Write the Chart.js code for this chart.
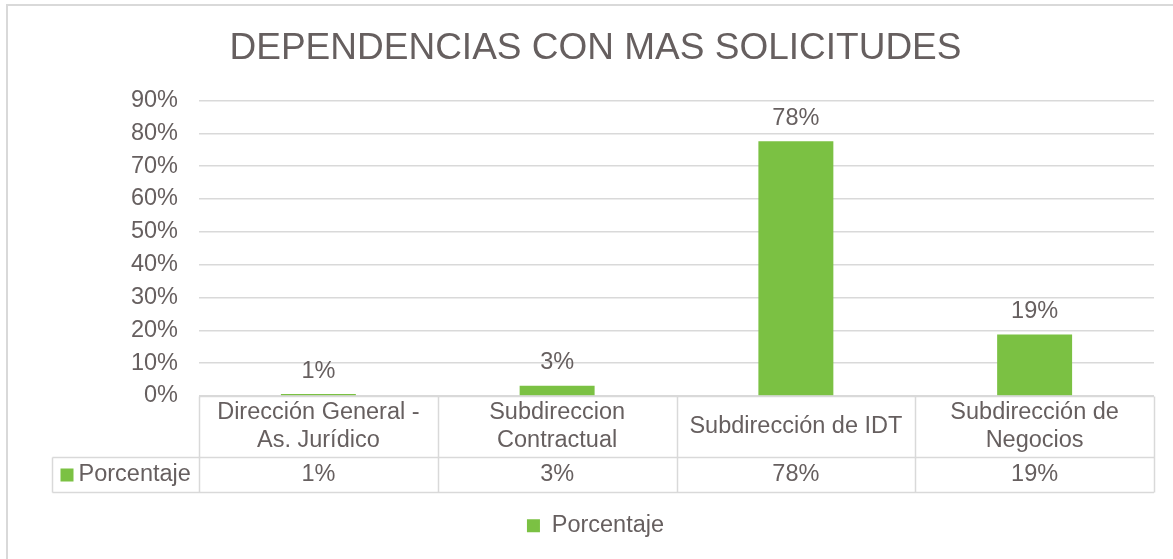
<!DOCTYPE html>
<html>
<head>
<meta charset="utf-8">
<script src="https://cdn.jsdelivr.net/npm/chart.js@4/dist/chart.umd.min.js"></script>
<style>
  html, body { margin: 0; padding: 0; background: #ffffff; }
  canvas { display: block; }
</style>
</head>
<body>
<canvas id="c" width="1173" height="559"></canvas>
<script>
// ---- data ----
const chartTitle = "DEPENDENCIAS CON MAS SOLICITUDES";
const seriesName = "Porcentaje";
const categories = [
  ["Dirección General -", "As. Jurídico"],
  ["Subdireccion", "Contractual"],
  ["Subdirección de IDT"],
  ["Subdirección de", "Negocios"]
];
const porcentaje = [0.6, 3.1, 77.6, 18.7];
const yTicks = [0, 10, 20, 30, 40, 50, 60, 70, 80, 90];

// ---- styles ----
const GREEN = "#7BC143";
const TEXT = "#665f5f";
const GRID = "#d9d9d9";
const FONT = "'Liberation Sans', Arial, sans-serif";
const FS = 23.5;
const fmt = v => Math.round(v) + "%";

const frame = {
  id: "frame",
  beforeDraw(chart) {
    const ctx = chart.ctx;
    ctx.save();
    ctx.strokeStyle = GRID;
    ctx.lineWidth = 2;
    ctx.strokeRect(7, 5, 1300, 700);
    ctx.restore();
  }
};

const valueLabels = {
  id: "valueLabels",
  afterDatasetsDraw(chart) {
    const ctx = chart.ctx;
    const meta = chart.getDatasetMeta(0);
    ctx.save();
    ctx.font = FS + "px " + FONT;
    ctx.fillStyle = TEXT;
    ctx.textAlign = "center";
    ctx.textBaseline = "middle";
    meta.data.forEach((bar, i) => {
      ctx.fillText(fmt(porcentaje[i]), bar.x, bar.y - 23);
    });
    ctx.restore();
  }
};

const dataTable = {
  id: "dataTable",
  afterDraw(chart) {
    const ctx = chart.ctx;
    const area = chart.chartArea;
    const xs = chart.scales.x;
    const n = categories.length;
    const colW = area.width / n;
    const top = Math.round(area.bottom) + 0.5;
    const headerBottom = top + 61;
    const rowBottom = headerBottom + 35;
    const legendLeft = 52.5;

    ctx.save();
    ctx.strokeStyle = GRID;
    ctx.lineWidth = 1.5;
    ctx.beginPath();
    ctx.moveTo(area.left, top); ctx.lineTo(area.right, top);
    ctx.moveTo(legendLeft, headerBottom); ctx.lineTo(area.right, headerBottom);
    ctx.moveTo(legendLeft, rowBottom); ctx.lineTo(area.right, rowBottom);
    ctx.moveTo(legendLeft, headerBottom); ctx.lineTo(legendLeft, rowBottom);
    for (let i = 0; i <= n; i++) {
      const x = Math.round(xs.getPixelForValue(i) - colW / 2) + 0.5;
      ctx.moveTo(x, top); ctx.lineTo(x, rowBottom);
    }
    ctx.stroke();

    ctx.font = FS + "px " + FONT;
    ctx.fillStyle = TEXT;
    ctx.textAlign = "center";
    ctx.textBaseline = "middle";
    const hc = (top + headerBottom) / 2;
    const rc = (headerBottom + rowBottom) / 2;
    categories.forEach((lines, i) => {
      const cx = xs.getPixelForValue(i);
      const lh = 28;
      lines.forEach((t, k) => {
        ctx.fillText(t, cx, hc - (lines.length - 1) * lh / 2 + k * lh);
      });
      ctx.fillText(fmt(porcentaje[i]), cx, rc);
    });
    ctx.fillStyle = GREEN;
    ctx.fillRect(legendLeft + 8, rc - 6.5, 13, 13);
    ctx.fillStyle = TEXT;
    ctx.textAlign = "left";
    ctx.fillText(seriesName, legendLeft + 26, rc);
    ctx.restore();
  }
};

new Chart(document.getElementById("c"), {
  type: "bar",
  data: {
    labels: categories,
    datasets: [{
      label: seriesName,
      data: porcentaje,
      backgroundColor: GREEN,
      borderWidth: 0,
      categoryPercentage: 1,
      barPercentage: 0.314
    }]
  },
  options: {
    responsive: false,
    animation: false,
    devicePixelRatio: 1,
    layout: { padding: { left: 37, right: 19, top: 5, bottom: 11.5 } },
    plugins: {
      title: {
        display: true,
        text: chartTitle,
        color: TEXT,
        font: { family: FONT, size: 37, weight: "normal" },
        padding: { top: 21.8, bottom: 29.3 }
      },
      legend: {
        display: true,
        position: "bottom",
        labels: {
          color: TEXT,
          font: { family: FONT, size: FS },
          boxWidth: 13,
          boxHeight: 13,
          padding: 10
        }
      },
      tooltip: { enabled: false }
    },
    scales: {
      x: {
        display: true,
        ticks: { display: false },
        grid: { display: false },
        border: { display: false },
        afterFit(s) { s.height = 108; }
      },
      y: {
        min: 0,
        max: 90,
        afterFit(s) { s.width = 162; },
        afterBuildTicks(s) { s.ticks = yTicks.map(v => ({ value: v })); },
        ticks: {
          color: TEXT,
          font: { family: FONT, size: FS },
          padding: 21,
          callback: v => v + "%"
        },
        grid: { color: GRID, lineWidth: 1.5, drawTicks: false },
        border: { display: false }
      }
    }
  },
  plugins: [frame, valueLabels, dataTable]
});
</script>
</body>
</html>
